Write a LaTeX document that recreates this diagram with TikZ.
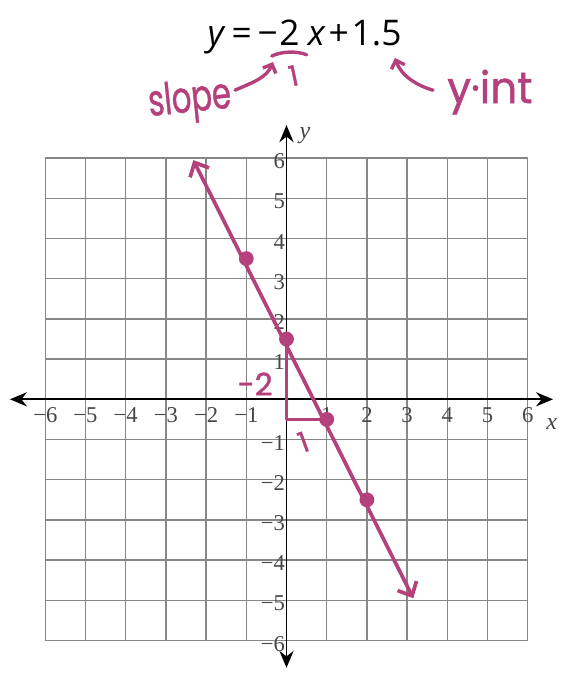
\documentclass[tikz,border=0pt]{standalone}
\usepackage{fontspec}
\setmainfont{Liberation Serif}
\newfontfamily\hand[FakeBold=1.2]{Poppins}
\newfontfamily\titlefont{Open Sans}
\usetikzlibrary{arrows.meta}
\definecolor{mag}{RGB}{180,64,124}
\definecolor{gridgray}{RGB}{135,135,135}
\definecolor{ticklab}{RGB}{70,70,70}
\begin{document}
\begin{tikzpicture}[
  gridline/.style={gridgray, line width=1pt},
  axisline/.style={black, line width=1.4pt, {Stealth[length=12pt,width=10pt]}-{Stealth[length=12pt,width=10pt]}},
  ticklbl/.style={ticklab, font=\fontsize{16}{16}\selectfont, inner sep=0pt},
  axlbl/.style={ticklab, font=\itshape\fontsize{17}{17}\selectfont, inner sep=0pt},
  magline/.style={mag, line width=2.6pt, line cap=round, line join=round},
  thinmag/.style={mag, line width=2.4pt, line cap=round, line join=round},
  handtxt/.style={mag, font=\hand\fontsize{31}{31}\selectfont, inner sep=0pt},
  dotmark/.style={circle, fill=mag, inner sep=0pt, minimum size=10.5pt},
]
\useasboundingbox (-7.127,-6.858) rectangle (6.878,9.933);
% grid
\draw[gridline] (-6,-6) grid (6,6);
% axes
\coordinate (xl) at (-6.88,0);
\coordinate (xr) at (6.63,0);
\coordinate (yt) at (0,6.82);
\coordinate (yb) at (0,-6.68);
\draw[axisline] (xl) -- (xr);
\draw[axisline] (yb) -- (yt);
% tick labels
\foreach \k/\t in {-6/−6,-5/−5,-4/−4,-3/−3,-2/−2,-1/−1,1/1,2/2,3/3,4/4,5/5,6/6}{
  \node[ticklbl] (xt\k) at (\k,-0.40) {\t};
  \node[ticklbl, anchor=east] (yt\k) at (-0.03,\k-0.08) {\t};
}
\node[axlbl] (ylab) at (0.46,6.55) {y};
\node[axlbl] (xlab) at (6.6,-0.62) {x};
% magenta line
\coordinate (ltop) at (-2.318,5.95);
\coordinate (lbot) at (3.154,-4.95);
\draw[magline, {Straight Barb[length=8pt,width=15pt]}-{Straight Barb[length=8pt,width=15pt]}] (ltop) -- (lbot);
% triangle
\coordinate (tc) at (0,-0.5);
\draw[magline] (0,1.5) -- (tc) -- (1,-0.5);
% dots
\node[dotmark] (p1) at (-1,3.5) {};
\node[dotmark] (p2) at (0,1.5) {};
\node[dotmark] (p3) at (1,-0.5) {};
\node[dotmark] (p4) at (2,-2.5) {};
% rise / run labels
\node[handtxt, font=\hand\fontsize{22}{22}\selectfont] (rise) at (-0.78,0.38) {-2};
\node[handtxt, font=\hand\fontsize{20}{20}\selectfont, rotate=20] (run) at (0.42,-1.06) {1};
% title
\node[font=\titlefont\fontsize{25}{25}\selectfont, inner sep=0pt] (title) at (0.45,9.01) {\textit{y}\,=\,−\hspace{1pt}2\hspace{6pt}\textit{x}\hspace{2pt}+\hspace{2pt}1.5};
% fraction bar and 1
\coordinate (b1) at (-0.368,8.54);
\coordinate (b2) at (0.502,8.57);
\draw[thinmag] (b1) .. controls (-0.1,8.66) and (0.25,8.67) .. (b2);
\node[handtxt, font=\hand\fontsize{20}{20}\selectfont, rotate=12] (den) at (0.174,8.05) {1};
% slope annotation
\node[handtxt, rotate=6, anchor=base, xscale=0.7] (slope) at (-2.376,7.15) {slope};
\coordinate (sa1) at (-1.28,7.69);
\coordinate (sa2) at (-0.336,8.39);
\draw[thinmag, -{Straight Barb[length=5pt,width=10pt]}] (sa1) .. controls (-0.8,7.9) and (-0.5,8.0) .. (sa2);
% y-int annotation
\node[handtxt, anchor=base, xscale=0.96] (yint) at (5.06,7.37) {y·int};
\coordinate (ya1) at (3.644,7.69);
\coordinate (ya2) at (2.70,8.49);
\draw[thinmag, -{Straight Barb[length=5pt,width=10pt]}] (ya1) .. controls (3.25,7.8) and (2.85,8.05) .. (ya2);
\end{tikzpicture}
\end{document}
